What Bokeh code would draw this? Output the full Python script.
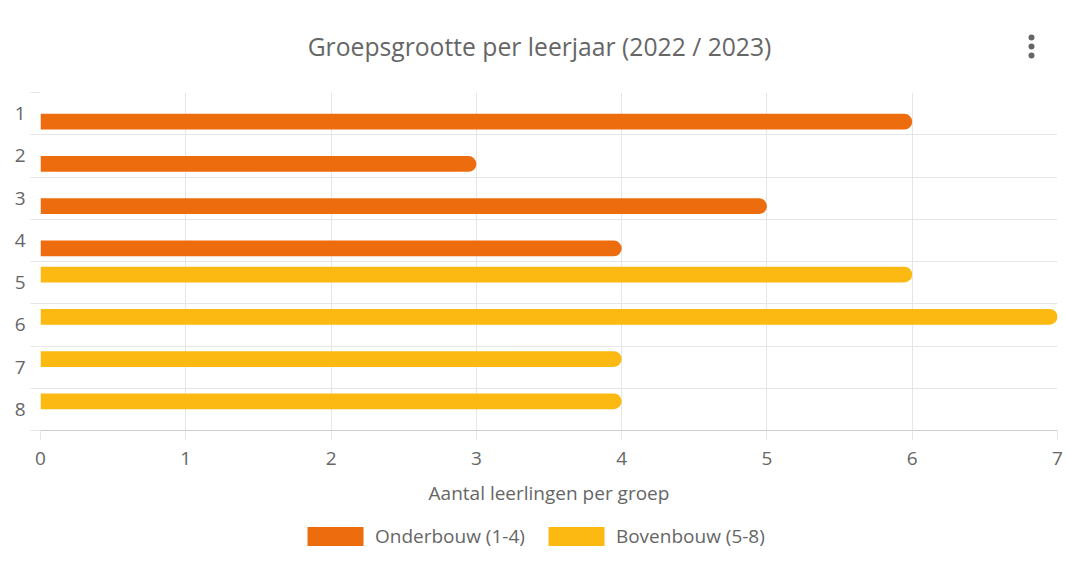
from bokeh.plotting import figure
from bokeh.layouts import column
from bokeh.models import (Range1d, FixedTicker, Legend, LegendItem, ColumnDataSource, Label)
from bokeh.embed import file_html
from bokeh.resources import INLINE
from bokeh.transform import dodge

# ---- data ----
groups = [1, 2, 3, 4, 5, 6, 7, 8]
group_labels = ["1", "2", "3", "4", "5", "6", "7", "8"]
onderbouw = [6, 3, 5, 4, None, None, None, None]
bovenbouw = [None, None, None, None, 6, 7, 4, 4]
x_ticks = [0, 1, 2, 3, 4, 5, 6, 7]
series_names = ["Onderbouw (1-4)", "Bovenbouw (5-8)"]
colors = ["#EC6C0E", "#FBB911"]
title_text = "Groepsgrootte per leerjaar (2022 / 2023)"
x_title = "Aantal leerlingen per groep"

FONT = "Open Sans"
TXT = "#666666"
GRID = "#e6e6e6"
LBL = "19px"

# ---- header strip (title + menu icon) ----
p0 = figure(width=1066, height=92, output_backend="svg", toolbar_location=None,
            x_range=Range1d(40, 1057), y_range=Range1d(92, 0),
            min_border_left=40, min_border_right=9, min_border_top=0, min_border_bottom=0)
p0.outline_line_color = None
p0.axis.visible = False
p0.grid.visible = False
p0.add_layout(Label(x=539, y=46, text=title_text, text_align="center", text_baseline="middle",
                    text_font=FONT, text_font_size="24.7px", text_color=TXT))
p0.scatter(x=[1031, 1031, 1031], y=[37, 46, 55], size=6, marker="circle",
           fill_color="#666666", line_color=None)

# ---- main chart ----
p = figure(frame_width=1017, frame_height=338, output_backend="svg", toolbar_location=None,
           x_range=Range1d(0, 7), y_range=Range1d(8.5, 0.5),
           min_border_left=40, min_border_right=9, min_border_top=0, min_border_bottom=80)
p.outline_line_color = None
p.background_fill_color = "white"

src_o = ColumnDataSource(dict(g=[g for g, v in zip(groups, onderbouw) if v is not None],
                              v=[v for v in onderbouw if v is not None]))
src_b = ColumnDataSource(dict(g=[g for g, v in zip(groups, bovenbouw) if v is not None],
                              v=[v for v in bovenbouw if v is not None]))

r_o = p.hbar(y=dodge("g", 0.19), left=0, right="v", height=0.37, source=src_o,
             fill_color=colors[0], line_color=None, border_radius=(0, 8, 8, 0))
r_b = p.hbar(y=dodge("g", -0.19), left=0, right="v", height=0.37, source=src_b,
             fill_color=colors[1], line_color=None, border_radius=(0, 8, 8, 0))

# x axis
xa = p.xaxis[0]
xa.ticker = FixedTicker(ticks=x_ticks)
xa.axis_label = x_title
xa.axis_label_text_font = FONT
xa.axis_label_text_font_size = LBL
xa.axis_label_text_font_style = "normal"
xa.axis_label_text_color = TXT
xa.axis_label_standoff = 12
xa.major_label_text_font = FONT
xa.major_label_text_font_size = LBL
xa.major_label_text_color = TXT
xa.major_label_standoff = 11
xa.axis_line_color = "#cccccc"
xa.major_tick_line_color = GRID
xa.major_tick_out = 10
xa.major_tick_in = 0
xa.minor_tick_line_color = None

# y axis
ya = p.yaxis[0]
ya.ticker = FixedTicker(ticks=groups, minor_ticks=[g - 0.5 for g in groups] + [8.5])
ya.major_label_overrides = {g: lab for g, lab in zip(groups, group_labels)}
ya.major_label_text_font = FONT
ya.major_label_text_font_size = LBL
ya.major_label_text_color = TXT
ya.major_label_standoff = 5
ya.major_tick_line_color = None
ya.major_tick_out = 10
ya.minor_tick_line_color = GRID
ya.minor_tick_out = 10
ya.minor_tick_in = 0
ya.axis_line_color = None

p.xgrid.ticker = FixedTicker(ticks=x_ticks)
p.xgrid.grid_line_color = GRID
p.ygrid.ticker = FixedTicker(ticks=[g - 0.5 for g in groups] + [8.5])
p.ygrid.grid_line_color = GRID

# ---- legend strip ----
p2 = figure(width=1066, height=61, output_backend="svg", toolbar_location=None,
            x_range=Range1d(0, 1), y_range=Range1d(0, 1),
            min_border_left=40, min_border_right=9, min_border_top=0, min_border_bottom=0)
p2.outline_line_color = None
p2.axis.visible = False
p2.grid.visible = False
lo = p2.hbar(y=[0.5], left=[0], right=[0], height=0.0, fill_color=colors[0], line_color=None)
lb = p2.hbar(y=[0.5], left=[0], right=[0], height=0.0, fill_color=colors[1], line_color=None)
legend = Legend(items=[LegendItem(label=series_names[0], renderers=[lo]),
                       LegendItem(label=series_names[1], renderers=[lb])],
                orientation="horizontal", location=(260, 22),
                glyph_width=70, glyph_height=24, label_standoff=5, spacing=16,
                label_text_font=FONT, label_text_font_size=LBL, label_text_color=TXT,
                border_line_color=None, background_fill_alpha=0, padding=0, margin=0)
p2.add_layout(legend)

layout = column(p0, p, p2, spacing=0)
open("out.html", "w").write(file_html(layout, INLINE))
